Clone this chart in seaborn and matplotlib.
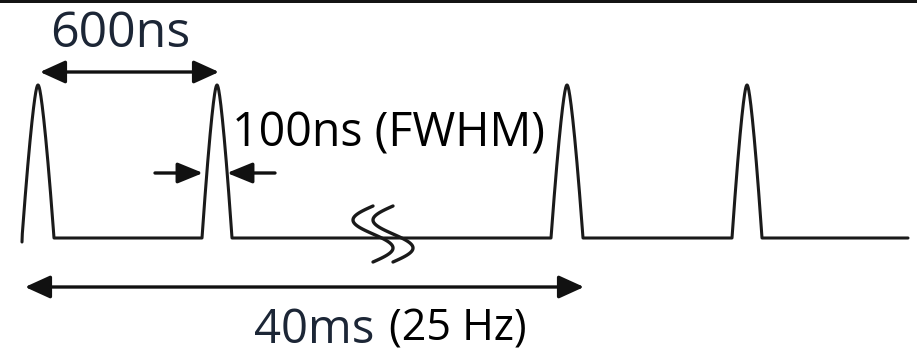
import numpy as np
import pandas as pd
import matplotlib
matplotlib.use("Agg")
import matplotlib.pyplot as plt
import seaborn as sns

# Pulse train: centre of each pulse along the time axis (diagram units)
pulse_centers = [38, 217, 567, 747]
pulse_half_base = [16, 15, 16, 15]
pulse_peak = 85
baseline = 238
trace_end = 908

# Annotation labels
label_period_short = "600ns"
label_fwhm = "100ns (FWHM)"
label_period_long = "40ms"
label_rate = "(25 Hz)"

sns.set_theme(style="white")
plt.rcParams["font.family"] = ["Open Sans", "DejaVu Sans"]

LINE = "#1a1a1a"
NAVY = "#1c2636"


def pulse_shape(u, q=1.35, e=0.12):
    """Rounded-top pulse, 1 at u=0 and 0 at |u|=1."""
    top = (1 + e ** 2) ** (q / 2)
    return (top - (u ** 2 + e ** 2) ** (q / 2)) / (top - e ** q)


# Build the full trace as a single polyline
xs, ys = [], []
u = np.linspace(-1, 1, 101)
for c, hw in zip(pulse_centers, pulse_half_base):
    xs.extend(c + hw * u)
    ys.extend(baseline - (baseline - pulse_peak) * pulse_shape(u))
xs.append(trace_end)
ys.append(baseline)
ys[0] = baseline + 4  # first pulse rises from just below the baseline
trace = pd.DataFrame({"t": xs, "v": ys})

fig = plt.figure(figsize=(9.17, 3.55), dpi=100)
ax = fig.add_axes([0, 0, 1, 1])
sns.lineplot(data=trace, x="t", y="v", sort=False, estimator=None,
             color=LINE, linewidth=2.2, ax=ax)
ax.set_xlim(0, 917)
ax.set_ylim(355, 0)
ax.axis("off")

# Dark strip along the top edge
ax.axhspan(0, 2.5, color="#141414", lw=0)


def arrow(x0, y0, x1, y1, style):
    ax.annotate("", xy=(x1, y1), xytext=(x0, y0),
                arrowprops=dict(arrowstyle=style, color="#111111", lw=2.4,
                                mutation_scale=14, shrinkA=0, shrinkB=0))


# 600 ns spacing between neighbouring pulses
arrow(40, 72, 219, 72, "<|-|>,head_length=1.1,head_width=0.5")
# FWHM markers on the second pulse
arrow(155, 173, 203, 173, "-|>,head_length=1.1,head_width=0.45")
arrow(275, 173, 227, 173, "-|>,head_length=1.1,head_width=0.45")
# 40 ms repetition period
arrow(25, 287, 584, 287, "<|-|>,head_length=1.1,head_width=0.5")

# Axis break symbol on the baseline
t = np.linspace(0, 1, 60)
for xc in (373, 393):
    ax.plot(xc - 20 * np.sin(2 * np.pi * t), 206 + 56 * t,
            color=LINE, lw=2.4, solid_capstyle="round")

ax.text(50, 47, label_period_short, fontsize=36, color=NAVY,
        ha="left", va="baseline")
ax.text(232, 147, label_fwhm, fontsize=33.5, color="black",
        ha="left", va="baseline")
ax.text(254, 343, label_period_long, fontsize=34, color=NAVY,
        ha="left", va="baseline")
ax.text(389, 341, label_rate, fontsize=31, color="black",
        ha="left", va="baseline")

fig.savefig("out.png", dpi=100, facecolor="white")
